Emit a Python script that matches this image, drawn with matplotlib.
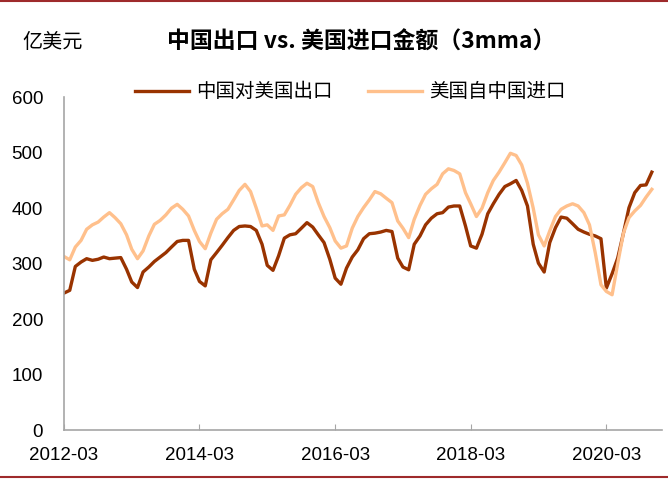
import matplotlib.pyplot as plt
import matplotlib.dates as mdates
from matplotlib.lines import Line2D
import pandas as pd

plt.rcParams['font.family'] = ['Liberation Sans', 'Noto Sans CJK SC']

# monthly, 3-month moving average, 亿美元
months = pd.date_range('2012-03-01', '2020-11-01', freq='MS')

cn_export_to_us = [
    247, 252, 295, 303, 309, 306, 308, 312, 309, 310,
    311, 290, 267, 257, 285, 294, 304, 312, 320, 330,
    340, 342, 342, 290, 268, 260, 307, 320, 333, 347,
    360, 367, 368, 367, 360, 335, 297, 288, 314, 346,
    352, 354, 364, 374, 366, 352, 338, 308, 274, 263,
    292, 312, 325, 345, 354, 355, 357, 360, 358, 310,
    294, 289, 335, 350, 370, 382, 390, 392, 402, 404,
    404, 368, 332, 328, 353, 390, 408, 425, 439, 444,
    450, 432, 404, 335, 301, 285, 338, 365, 384, 382,
    372, 362, 357, 353, 350, 345, 256, 282, 310, 355,
    401, 428, 441, 442, 465,
]

us_import_from_cn = [
    313, 307, 330, 342, 362, 370, 375, 384, 392, 383,
    372, 352, 326, 309, 323, 350, 371, 378, 388, 400,
    407, 398, 386, 360, 340, 327, 355, 380, 390, 398,
    415, 432, 443, 430, 400, 368, 370, 360, 386, 388,
    405, 425, 437, 445, 439, 410, 385, 365, 341, 328,
    332, 364, 385, 401, 415, 430, 426, 418, 410, 377,
    364, 347, 380, 405, 425, 435, 443, 462, 471, 468,
    462, 428, 408, 385, 400, 428, 450, 465, 482, 499,
    495, 478, 445, 400, 352, 332, 359, 385, 398, 404,
    408, 404, 392, 370, 320, 262, 250, 244, 300, 355,
    383, 395, 405, 420, 434,
]

labels = ['中国对美国出口', '美国自中国进口']
tick_dates = pd.to_datetime(['2012-03-01', '2014-03-01', '2016-03-01',
                             '2018-03-01', '2020-03-01'])

fig = plt.figure(figsize=(6.68, 4.79), dpi=100)
ax = fig.add_axes([0.0958, 0.102, 0.895, 0.695])

ax.plot(months, cn_export_to_us, color='#993300', lw=2.4, label=labels[0])
ax.plot(months, us_import_from_cn, color='#FFC08C', lw=2.4, label=labels[1])

ax.set_ylim(0, 600)
ax.set_yticks(range(0, 601, 100))
ax.set_xlim(pd.Timestamp('2012-03-01'), pd.Timestamp('2020-12-25'))
ax.set_xticks(tick_dates)
ax.xaxis.set_major_formatter(mdates.DateFormatter('%Y-%m'))

for s in ['top', 'right']:
    ax.spines[s].set_visible(False)
for s in ['left', 'bottom']:
    ax.spines[s].set_color('#A6A6A6')
    ax.spines[s].set_linewidth(1.2)

ax.tick_params(axis='y', length=0, labelsize=13.5, pad=15)
ax.tick_params(axis='x', direction='in', length=4, color='#A6A6A6',
               labelsize=13.5, pad=12)

fig.legend(loc='center', bbox_to_anchor=(0.524, 0.808), ncol=2, frameon=False,
           prop={'family': 'Noto Sans CJK SC', 'size': 14},
           handlelength=2.8, handletextpad=0.35, columnspacing=1.8)

fig.text(0.541, 0.912, '中国出口 vs. 美国进口金额（3mma）', ha='center', va='center',
         fontsize=16.5, fontweight='bold', family=['Noto Sans CJK SC'])
fig.text(0.078, 0.912, '亿美元', ha='center', va='center',
         fontsize=14.5, family=['Noto Sans CJK SC'])

# thin red rules at top and bottom
fig.add_artist(Line2D([0, 1], [0.997, 0.997], transform=fig.transFigure,
                      color='#9E2A2B', lw=1.5))
fig.add_artist(Line2D([0, 1], [0.004, 0.004], transform=fig.transFigure,
                      color='#9E2A2B', lw=1.5))

fig.savefig('out.png', dpi=100)
